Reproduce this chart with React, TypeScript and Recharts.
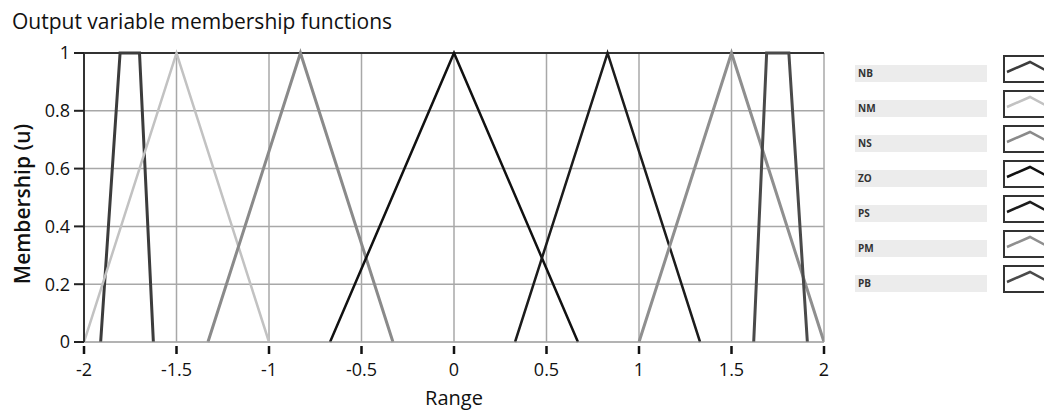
import { CartesianGrid, Line, LineChart, ReferenceLine, XAxis, YAxis } from "recharts";

const xTicks = [-2, -1.5, -1, -0.5, 0, 0.5, 1, 1.5, 2];
const yTicks = [0, 0.2, 0.4, 0.6, 0.8, 1];

// membership function corner points
const nb = [
  { x: -1.91, u: 0 },
  { x: -1.805, u: 1 },
  { x: -1.7, u: 1 },
  { x: -1.625, u: 0 },
];
const nm = [
  { x: -2, u: 0 },
  { x: -1.5, u: 1 },
  { x: -1, u: 0 },
];
const ns = [
  { x: -1.33, u: 0 },
  { x: -0.83, u: 1 },
  { x: -0.33, u: 0 },
];
const zo = [
  { x: -0.67, u: 0 },
  { x: 0, u: 1 },
  { x: 0.67, u: 0 },
];
const ps = [
  { x: 0.33, u: 0 },
  { x: 0.83, u: 1 },
  { x: 1.33, u: 0 },
];
const pm = [
  { x: 1, u: 0 },
  { x: 1.5, u: 1 },
  { x: 2, u: 0 },
];
const pb = [
  { x: 1.62, u: 0 },
  { x: 1.69, u: 1 },
  { x: 1.81, u: 1 },
  { x: 1.91, u: 0 },
];

const sets = [
  { name: "NB", data: nb, color: "#3c3c3c", width: 3 },
  { name: "NM", data: nm, color: "#c2c2c2", width: 2.5 },
  { name: "NS", data: ns, color: "#8a8a8a", width: 3 },
  { name: "ZO", data: zo, color: "#111111", width: 2.5 },
  { name: "PS", data: ps, color: "#1c1c1c", width: 2.5 },
  { name: "PM", data: pm, color: "#8f8f8f", width: 3 },
  { name: "PB", data: pb, color: "#4a4a4a", width: 3 },
];

const font = "'Open Sans', 'Noto Sans', sans-serif";

function XTick(props: any) {
  const { x, y, payload } = props;
  return (
    <g>
      <rect x={x - 1.25} y={y + 4} width={2.5} height={8} fill="#111" />
      <text x={x} y={y + 34} textAnchor="middle" fontSize={18} fontFamily={font} fill="#111">
        {String(payload.value)}
      </text>
    </g>
  );
}

export default function App() {
  return (
    <div
      style={{
        position: "absolute",
        left: 0,
        top: 0,
        width: 1044,
        height: 412,
        background: "#fff",
        fontFamily: font,
        overflow: "hidden",
      }}
    >
      <div style={{ position: "absolute", left: 12, top: 11, fontSize: 21, lineHeight: "21px", color: "#111", whiteSpace: "nowrap" }}>
        Output variable membership functions
      </div>
      <LineChart
        width={840}
        height={412}
        margin={{ top: 53, right: 16, bottom: 30, left: 0 }}
        style={{ position: "absolute", left: 0, top: 0 }}
      >
        <CartesianGrid stroke="#a8a8a8" strokeWidth={1.5} horizontalValues={yTicks} verticalValues={xTicks} />
        <XAxis
          type="number"
          dataKey="x"
          domain={[-2, 2]}
          ticks={xTicks}
          allowDataOverflow
          height={40}
          tickSize={0}
          tickMargin={0}
          stroke="#a8a8a8"
          tickLine={false}
          tick={<XTick />}
        />
        <YAxis
          type="number"
          domain={[0, 1]}
          ticks={yTicks}
          width={84}
          tickSize={10}
          tickMargin={4}
          axisLine={{ stroke: "#333", strokeWidth: 2 }}
          tickLine={{ stroke: "#222", strokeWidth: 2 }}
          tick={{ fill: "#111", fontSize: 18, fontFamily: font }}
          tickFormatter={(v: number) => String(v)}
        />
        <ReferenceLine y={1} stroke="#333" strokeWidth={2} />
        {sets.map((s) => (
          <Line
            key={s.name}
            data={s.data}
            dataKey="u"
            type="linear"
            stroke={s.color}
            strokeWidth={s.width}
            dot={false}
            isAnimationActive={false}
          />
        ))}
      </LineChart>
      <div
        style={{
          position: "absolute",
          left: 22 - 100,
          top: 204 - 14,
          width: 200,
          height: 28,
          lineHeight: "28px",
          textAlign: "center",
          transform: "rotate(-90deg)",
          fontSize: 21,
          fontWeight: 600,
          color: "#111",
          whiteSpace: "nowrap",
        }}
      >
        Membership (u)
      </div>
      <div
        style={{
          position: "absolute",
          left: 354,
          width: 200,
          top: 388,
          textAlign: "center",
          fontSize: 20,
          lineHeight: "20px",
          color: "#111",
        }}
      >
        Range
      </div>
      {sets.map((s, i) => (
        <div key={s.name}>
          <div
            style={{
              position: "absolute",
              left: 855,
              top: 65 + i * 35,
              width: 132,
              height: 17,
              background: "#ececec",
              fontSize: 10,
              fontWeight: 700,
              lineHeight: "17px",
              paddingLeft: 3,
              boxSizing: "border-box",
              color: "#333",
            }}
          >
            {s.name}
          </div>
          <svg width={42} height={28} style={{ position: "absolute", left: 1003, top: 55 + i * 35 }}>
            <rect x={1} y={1} width={44} height={26} fill="#fff" stroke="#333" strokeWidth={2} />
            <polyline points="4,17 27,7 46,17" fill="none" stroke={s.color} strokeWidth={2.5} />
          </svg>
        </div>
      ))}
    </div>
  );
}
